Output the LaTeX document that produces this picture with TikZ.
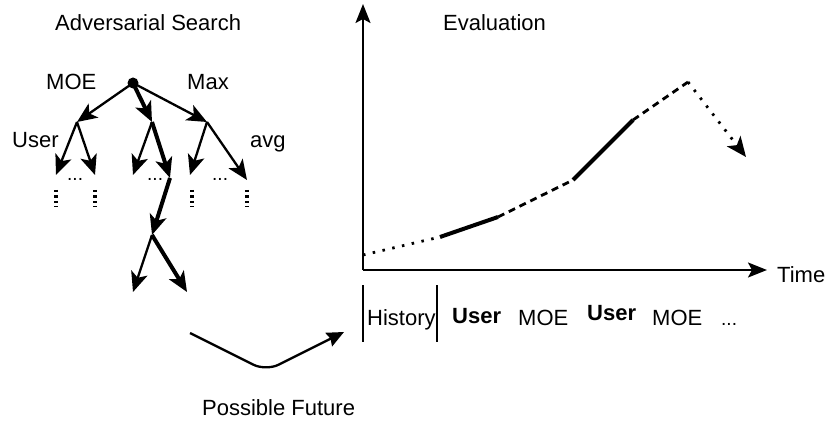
\documentclass[tikz,border=0pt]{standalone}
\usepackage{fontspec}
\setmainfont{Liberation Sans}
\usetikzlibrary{arrows.meta}
\begin{document}
\begin{tikzpicture}[x=1pt,y=-1pt,
  lbl/.style={font=\fontsize{22}{26}\selectfont, inner sep=0pt, anchor=base west},
  tip/.style={-{Stealth[length=20pt,width=17pt,inset=5pt]}},
  thinedge/.style={line width=2.3pt, tip},
  thickedge/.style={line width=4pt, tip},
  axis/.style={line width=2.3pt, -{Stealth[length=19pt,width=15pt,inset=4pt]}},
  vdots/.style={line width=3.5pt, dash pattern=on 2.5pt off 3pt},
  dotseg/.style={line width=2.8pt, dash pattern=on 2.5pt off 7.5pt},
  dashseg/.style={line width=2.8pt, dash pattern=on 7pt off 5pt},
  solidseg/.style={line width=4pt},
  bar/.style={line width=2.3pt}]
\path[use as bounding box] (0,0) rectangle (830,422);

% ---------- search tree ----------
\node[lbl] (title) at (55,31) {Adversarial Search};
\coordinate (root) at (133,83);
\coordinate (L) at (77,122);
\coordinate (M) at (152,122);
\coordinate (R) at (207,122);
\coordinate (LL) at (56,175);
\coordinate (LR) at (95,175);
\coordinate (ML) at (133,175);
\coordinate (MR) at (170,178);
\coordinate (RL) at (190,175);
\coordinate (RR) at (247,180);
\coordinate (D) at (152,235);
\coordinate (DL) at (133,292);
\coordinate (DR) at (187,292);

\draw[thinedge] (root) -- (L);
\draw[thickedge] (root) -- (M);
\draw[thinedge] (root) -- (R);
\draw[thinedge] (L) -- (LL);
\draw[thinedge] (L) -- (LR);
\draw[thinedge] (M) -- (ML);
\draw[thickedge] (M) -- (MR);
\draw[thinedge] (R) -- (RL);
\draw[thinedge] (R) -- (RR);
\draw[thickedge] (MR) -- (D);
\draw[thinedge] (D) -- (DL);
\draw[thickedge] (D) -- (DR);
\fill (root) circle (5.5pt);

\node[lbl] (moe) at (46,90) {MOE};
\node[lbl] (max) at (187,90) {Max};
\node[lbl] (user) at (12,148) {User};
\node[lbl] (avg) at (250,148) {avg};

\node[lbl, font=\fontsize{19}{22}\selectfont] (el) at (67,181) {...};
\node[lbl, font=\fontsize{19}{22}\selectfont] (em) at (147,181) {...};
\node[lbl, font=\fontsize{19}{22}\selectfont] (er) at (212,181) {...};

\draw[vdots] (56,190) -- (56,207);
\draw[vdots] (95,190) -- (95,207);
\draw[vdots] (192,190) -- (192,207);
\draw[vdots] (247,190) -- (247,207);

% ---------- evaluation plot ----------
\node[lbl] (eval) at (443,31) {Evaluation};
\coordinate (O) at (363,270);
\coordinate (ytop) at (363,4);
\coordinate (xend) at (767,270);
\draw[axis] (O) -- (ytop);
\draw[axis] (O) -- (xend);
\node[lbl] (time) at (777,282) {Time};

\coordinate (c0) at (363,255);
\coordinate (c1) at (440,237);
\coordinate (c2) at (498,217);
\coordinate (c3) at (573,180);
\coordinate (c4) at (633,120);
\coordinate (c5) at (688,82);
\coordinate (c6) at (746,157);
\draw[dotseg] (c0) -- (c1);
\draw[solidseg] (c1) -- (c2);
\draw[dashseg] (c2) -- (c3);
\draw[solidseg] (c3) -- (c4);
\draw[dashseg] (c4) -- (c5);
\draw[dotseg, tip] (c5) -- (c6);

% ---------- timeline ----------
\draw[bar] (363,285) -- (363,342);
\draw[bar] (437,285) -- (437,342);
\node[lbl] (hist) at (367,325) {History};
\node[lbl, font=\fontsize{22}{26}\selectfont\bfseries] (u1) at (452,323) {User};
\node[lbl] (m1) at (518,325) {MOE};
\node[lbl, font=\fontsize{22}{26}\selectfont\bfseries] (u2) at (587,320) {User};
\node[lbl] (m2) at (652,325) {MOE};
\node[lbl, font=\fontsize{19}{22}\selectfont] (more) at (721,325) {...};

% ---------- possible future ----------
\coordinate (f0) at (190,333);
\coordinate (f1) at (266,371);
\coordinate (f2) at (344,332);
\draw[line width=2.3pt, rounded corners=14pt, -{Stealth[length=17pt,width=15pt,inset=2pt]}] (f0) -- (f1) -- (f2);
\node[lbl] (future) at (202,415) {Possible Future};
\end{tikzpicture}
\end{document}
